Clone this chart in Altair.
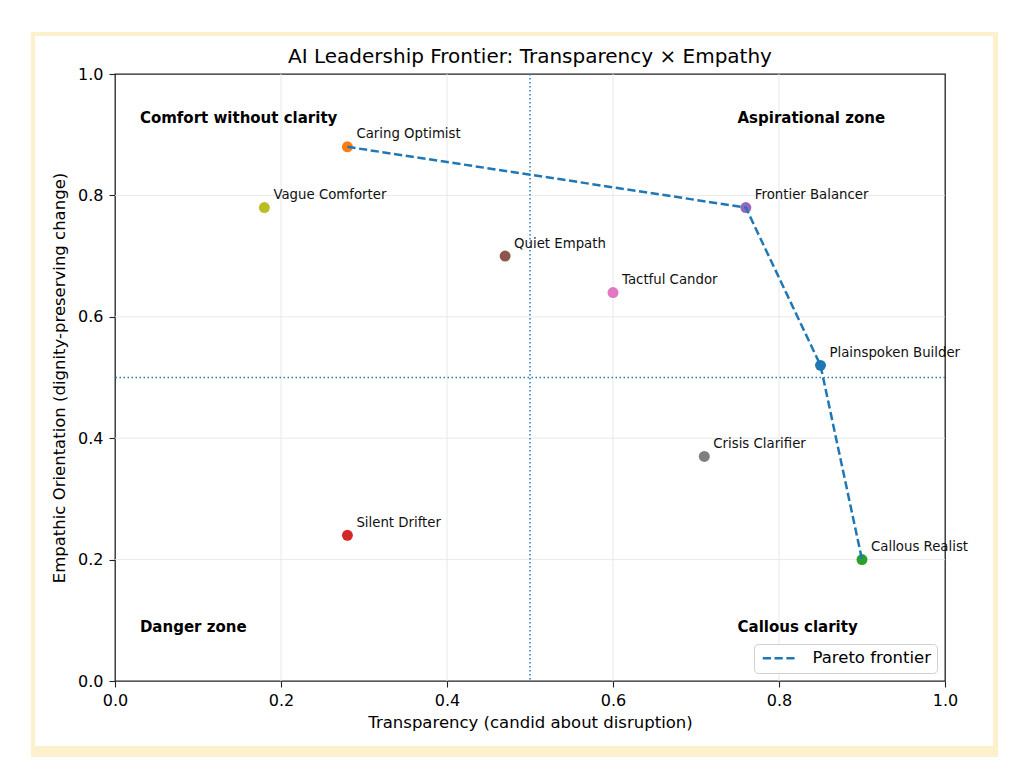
import altair as alt
import pandas as pd

# ---- data ----
names = ["Plainspoken Builder", "Caring Optimist", "Callous Realist", "Silent Drifter",
         "Frontier Balancer", "Quiet Empath", "Tactful Candor", "Crisis Clarifier",
         "Vague Comforter"]
transparency = [0.85, 0.28, 0.90, 0.28, 0.76, 0.47, 0.60, 0.71, 0.18]
empathy = [0.52, 0.88, 0.20, 0.24, 0.78, 0.70, 0.64, 0.37, 0.78]
colors = ["#1f77b4", "#ff7f0e", "#2ca02c", "#d62728", "#9467bd", "#8c564b",
          "#e377c2", "#7f7f7f", "#bcbd22"]

frontier_names = ["Caring Optimist", "Frontier Balancer", "Plainspoken Builder", "Callous Realist"]

quad_labels = ["Comfort without clarity", "Aspirational zone", "Danger zone", "Callous clarity"]
quad_x = [0.03, 0.75, 0.03, 0.75]
quad_y = [0.927, 0.927, 0.089, 0.089]

ref_x = [0.5]
ref_y = [0.5]
ticks = [0.0, 0.2, 0.4, 0.6, 0.8, 1.0]
grid_vals = [0.2, 0.4, 0.6, 0.8]

TITLE = "AI Leadership Frontier: Transparency × Empathy"
FONT = "DejaVu Sans"

pts = pd.DataFrame({"name": names, "t": transparency, "e": empathy})
lookup = {n: (t, e) for n, t, e in zip(names, transparency, empathy)}
front = pd.DataFrame({
    "name": frontier_names,
    "t": [lookup[n][0] for n in frontier_names],
    "e": [lookup[n][1] for n in frontier_names],
    "order": list(range(len(frontier_names))),
    "series": ["Pareto frontier"] * len(frontier_names),
})
quads = pd.DataFrame({"label": quad_labels, "t": quad_x, "e": quad_y})
grid_df = pd.DataFrame({"v": grid_vals})

xscale = alt.Scale(domain=[0, 1], nice=False, zero=False)
yscale = alt.Scale(domain=[0, 1], nice=False, zero=False)
xaxis = alt.Axis(values=ticks, format=".1f", title="Transparency (candid about disruption)",
                 labelPadding=5, titlePadding=6)
yaxis = alt.Axis(values=ticks, format=".1f", title="Empathic Orientation (dignity-preserving change)",
                 labelPadding=6, titlePadding=10)


def X(field):
    return alt.X(field, type="quantitative", scale=xscale, axis=xaxis)


def Y(field):
    return alt.Y(field, type="quantitative", scale=yscale, axis=yaxis)


dummy = pd.DataFrame({"a": [0]})
CREAM = "#fdf0cc"
frame_parts = [
    (-84, 883, -42, -38),
    (-84, -80, -42, 683),
    (878, 883, -42, 683),
    (-84, 883, 672, 683),
]
frame_layers = [
    alt.Chart(dummy).mark_rect(color=CREAM).encode(
        x=alt.value(a), x2=alt.value(b), y=alt.value(c), y2=alt.value(d))
    for a, b, c, d in frame_parts
]

title_text = alt.Chart(pd.DataFrame({"title": [TITLE]})).mark_text(
    align="center", baseline="middle", fontSize=20, font=FONT, color="black"
).encode(x=alt.value(415), y=alt.value(-17), text="title:N")

grid_v = alt.Chart(grid_df).mark_rule(color="#e8e8e8", strokeWidth=1).encode(x=X("v"))
grid_h = alt.Chart(grid_df).mark_rule(color="#e8e8e8", strokeWidth=1).encode(y=Y("v"))

ref_v = alt.Chart(pd.DataFrame({"v": ref_x})).mark_rule(
    color="#2b7bb9", strokeDash=[1.5, 2.5], strokeWidth=1.5, opacity=1
).encode(x=X("v"))
ref_h = alt.Chart(pd.DataFrame({"v": ref_y})).mark_rule(
    color="#2b7bb9", strokeDash=[1.5, 2.5], strokeWidth=1.5, opacity=1
).encode(y=Y("v"))

points = alt.Chart(pts).mark_circle(size=120, opacity=1).encode(
    x=X("t"), y=Y("e"),
    fill=alt.Fill("name:N", scale=alt.Scale(domain=names, range=colors), legend=None),
)

line = alt.Chart(front).mark_line(strokeWidth=2.5, strokeDash=[8.2, 3.6]).encode(
    x=X("t"), y=Y("e"), order="order:Q",
    stroke=alt.Stroke("series:N", scale=alt.Scale(domain=["Pareto frontier"], range=["#1f77b4"]),
                      legend=alt.Legend(title=None)),
)

labels = alt.Chart(pts).mark_text(
    align="left", baseline="middle", dx=9, dy=-12.5, fontSize=13.3, font=FONT, color="#111111"
).encode(x=X("t"), y=Y("e"), text="name:N")

quad_text = alt.Chart(quads).mark_text(
    align="left", baseline="middle", fontSize=15, fontWeight="bold", font=FONT, color="black"
).encode(x=X("t"), y=Y("e"), text="label:N")

chart = alt.layer(
    *frame_layers, title_text, grid_v, grid_h, ref_v, ref_h, points, line, labels, quad_text
).properties(
    width=830, height=607,
    autosize=alt.AutoSizeParams(type="none"),
    padding={"left": 107, "top": 66, "right": 70, "bottom": 80},
    background="white",
).configure_view(
    stroke="#222222", strokeWidth=1.3, fill="white"
).configure_axis(
    grid=False, domain=False,
    tickColor="#222222", tickSize=6, tickWidth=1.1,
    labelFont=FONT, labelFontSize=16, labelColor="black",
    labelFlush=False, labelOverlap=False,
    titleFont=FONT, titleFontSize=16.5, titleFontWeight="normal", titleColor="black",
).configure_legend(
    orient="bottom-right", offset=8, fillColor="white", strokeColor="#d0d0d0",
    cornerRadius=4, padding=6, labelFont=FONT, labelFontSize=16.5, labelColor="black",
    symbolType="M-1,0H5", symbolStrokeWidth=2.5, symbolDash=[8.2, 3.6], symbolSize=121,
    symbolFillColor="transparent", labelOffset=36,
).configure_text(font=FONT)

chart.save("out.html", embed_options={"renderer": "svg", "actions": False})
